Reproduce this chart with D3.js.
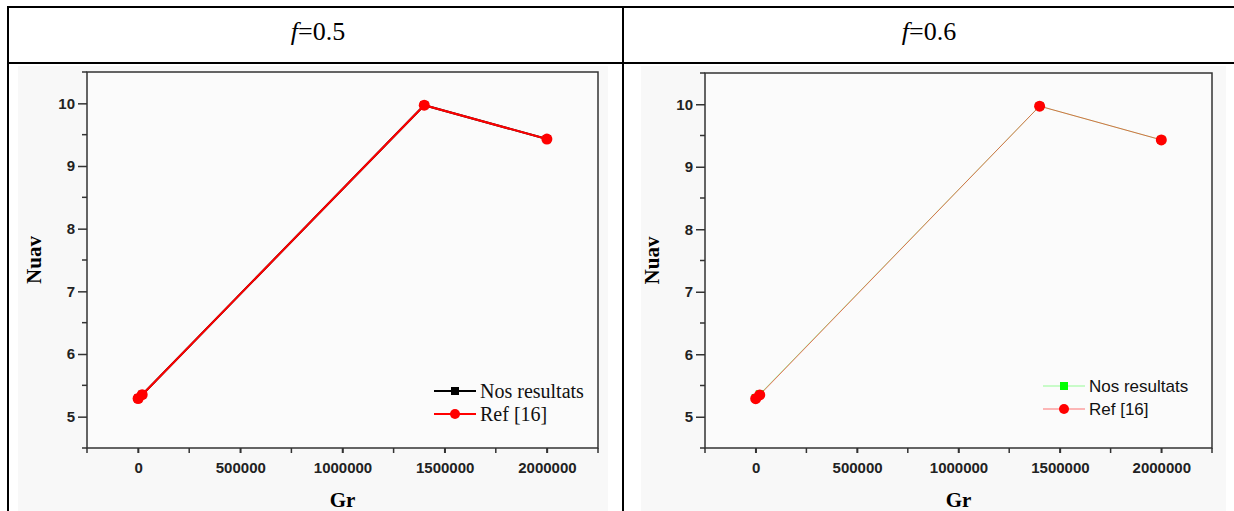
<!DOCTYPE html>
<html>
<head>
<meta charset="utf-8">
<script src="https://cdn.jsdelivr.net/npm/d3@7"></script>
<style>
	body { margin: 0; background: #fff; }
	svg { display: block; }
</style>
</head>
<body>
<div class="chart"></div>
<script>
// Nuav vs Gr, two panels (f=0.5 and f=0.6)
const grValues = [0, 20000, 1400000, 2000000]
const nosResultatsF05 = [5.29, 5.35, 9.97, 9.43]
const ref16F05 = [5.29, 5.35, 9.97, 9.43]
const nosResultatsF06 = [5.30, 5.36, 9.97, 9.43]
const ref16F06 = [5.29, 5.35, 9.97, 9.43]
const panelTitles = ['0.5', '0.6']
const xTickValues = [0, 500000, 1000000, 1500000, 2000000]
const yTickValues = [5, 6, 7, 8, 9, 10]
const legendLabels = ['Nos resultats', 'Ref [16]']

const svg = d3.select('.chart')
	.append('svg')
	.attr('width', 1234)
	.attr('height', 511)

// table borders
const table = svg.append('g').attr('stroke', '#000').attr('stroke-width', 2)
table.append('line').attr('x1', 8).attr('x2', 1234).attr('y1', 7).attr('y2', 7)
table.append('line').attr('x1', 8).attr('x2', 1234).attr('y1', 63).attr('y2', 63)
table.append('line').attr('x1', 8).attr('x2', 8).attr('y1', 6).attr('y2', 511)
table.append('line').attr('x1', 623).attr('x2', 623).attr('y1', 6).attr('y2', 511)

// light grey picture backgrounds
svg.append('rect').attr('x', 18).attr('y', 66).attr('width', 590).attr('height', 445).attr('fill', '#f8f8f8')
svg.append('rect').attr('x', 641).attr('y', 66).attr('width', 585).attr('height', 445).attr('fill', '#f8f8f8')

// header titles
const titleCenters = [318, 929]
panelTitles.forEach((t, i) => {
	const txt = svg.append('text')
		.attr('x', titleCenters[i])
		.attr('y', 40)
		.attr('text-anchor', 'middle')
		.attr('font-family', 'Liberation Serif, Times New Roman, serif')
		.attr('font-size', '26px')
		.attr('fill', '#000')
	txt.append('tspan').attr('font-style', 'italic').text('f')
	txt.append('tspan').text('=' + t)
})

function drawPanel(cfg) {
	const g = svg.append('g')

	const xScale = d3.scaleLinear()
		.domain([-250000, 2250000])
		.range([cfg.left, cfg.right])

	const yScale = d3.scaleLinear()
		.domain([4.5, 10.5])
		.range([cfg.bottom, cfg.top])

	// frame
	g.append('rect')
		.attr('x', cfg.left)
		.attr('y', cfg.top)
		.attr('width', cfg.right - cfg.left)
		.attr('height', cfg.bottom - cfg.top)
		.attr('fill', '#fbfbfb')
		.attr('stroke', '#333')
		.attr('stroke-width', 1.5)

	// x axis
	const xAxis = d3.axisBottom(xScale)
		.tickValues(xTickValues)
		.tickFormat(d3.format('d'))
		.tickSize(5)
		.tickPadding(9)
	const xg = g.append('g')
		.attr('transform', `translate(0, ${cfg.bottom})`)
		.call(xAxis)
	const xMinor = d3.range(-250000, 2250001, 250000)
	g.append('g').selectAll('line')
		.data(xMinor)
		.enter()
		.append('line')
		.attr('x1', d => xScale(d))
		.attr('x2', d => xScale(d))
		.attr('y1', cfg.bottom)
		.attr('y2', cfg.bottom + 5)
		.attr('stroke', '#333')
		.attr('stroke-width', 1.5)

	// y axis
	const yAxis = d3.axisLeft(yScale)
		.tickValues(yTickValues)
		.tickFormat(d3.format('d'))
		.tickSize(9)
		.tickPadding(3)
	const yg = g.append('g')
		.attr('transform', `translate(${cfg.left}, 0)`)
		.call(yAxis)
	const yMinor = d3.range(4.5, 10.51, 1)
	g.append('g').selectAll('line')
		.data(yMinor)
		.enter()
		.append('line')
		.attr('x1', cfg.left - 5)
		.attr('x2', cfg.left)
		.attr('y1', d => yScale(d))
		.attr('y2', d => yScale(d))
		.attr('stroke', '#333')
		.attr('stroke-width', 1.5)

	;[xg, yg].forEach(ax => {
		ax.select('.domain').remove()
		ax.selectAll('line').attr('stroke', '#333').attr('stroke-width', 1.5)
		ax.selectAll('text')
			.attr('font-family', 'Liberation Sans, Arial, sans-serif')
			.attr('font-weight', 'bold')
			.attr('font-size', '15px')
			.attr('fill', '#222')
	})

	// axis titles
	g.append('text')
		.attr('x', (cfg.left + cfg.right) / 2)
		.attr('y', 507)
		.attr('text-anchor', 'middle')
		.attr('font-family', 'Liberation Serif, Times New Roman, serif')
		.attr('font-weight', 'bold')
		.attr('font-size', '21px')
		.text('Gr')
	g.append('text')
		.attr('transform', `translate(${cfg.left - 46}, ${(cfg.top + cfg.bottom) / 2}) rotate(-90)`)
		.attr('text-anchor', 'middle')
		.attr('font-family', 'Liberation Serif, Times New Roman, serif')
		.attr('font-weight', 'bold')
		.attr('font-size', '21px')
		.text('Nuav')

	const pts = (vals) => grValues.map((gr, i) => [gr, vals[i]])
	const line = d3.line()
		.x(d => xScale(d[0]))
		.y(d => yScale(d[1]))

	// series: Nos resultats (squares) under Ref [16] (circles)
	g.append('path')
		.datum(pts(cfg.nos))
		.attr('d', line)
		.attr('fill', 'none')
		.attr('stroke', cfg.nosColor)
		.attr('stroke-width', cfg.lineWidth)
		.attr('stroke-opacity', cfg.nosOpacity)
	g.append('g').selectAll('rect')
		.data(pts(cfg.nos))
		.enter()
		.append('rect')
		.attr('x', d => xScale(d[0]) - 4)
		.attr('y', d => yScale(d[1]) - 4)
		.attr('width', 8)
		.attr('height', 8)
		.attr('fill', cfg.nosColor)

	g.append('path')
		.datum(pts(cfg.ref))
		.attr('d', line)
		.attr('fill', 'none')
		.attr('stroke', '#ff0000')
		.attr('stroke-width', cfg.lineWidth)
		.attr('stroke-opacity', cfg.refOpacity)
	g.append('g').selectAll('circle')
		.data(pts(cfg.ref))
		.enter()
		.append('circle')
		.attr('cx', d => xScale(d[0]))
		.attr('cy', d => yScale(d[1]))
		.attr('r', 5.5)
		.attr('fill', '#ff0000')

	// legend
	const legColors = [cfg.nosColor, '#ff0000']
	const legOpacity = [cfg.nosOpacity, cfg.refOpacity]
	legendLabels.forEach((lab, i) => {
		const y = cfg.legY + i * cfg.legStep
		g.append('line')
			.attr('x1', cfg.legX)
			.attr('x2', cfg.legX + 42)
			.attr('y1', y)
			.attr('y2', y)
			.attr('stroke', legColors[i])
			.attr('stroke-width', cfg.lineWidth)
			.attr('stroke-opacity', legOpacity[i])
		if (i === 0) {
			g.append('rect')
				.attr('x', cfg.legX + 17)
				.attr('y', y - 4)
				.attr('width', 8)
				.attr('height', 8)
				.attr('fill', legColors[i])
		} else {
			g.append('circle')
				.attr('cx', cfg.legX + 21)
				.attr('cy', y)
				.attr('r', 5)
				.attr('fill', legColors[i])
		}
		g.append('text')
			.attr('x', cfg.legX + 46)
			.attr('y', y)
			.attr('dy', '0.35em')
			.attr('font-family', cfg.legFont)
			.attr('font-size', cfg.legSize)
			.attr('fill', '#111')
			.text(lab)
	})
}

drawPanel({
	left: 87, right: 598, top: 72, bottom: 448,
	nos: nosResultatsF05, ref: ref16F05,
	nosColor: '#000000', lineWidth: 2, nosOpacity: 1, refOpacity: 1,
	legX: 434, legY: 391, legStep: 23,
	legFont: 'Liberation Serif, Times New Roman, serif', legSize: '20px'
})

drawPanel({
	left: 705, right: 1212, top: 73, bottom: 448,
	nos: nosResultatsF06, ref: ref16F06,
	nosColor: '#00ff00', lineWidth: 1, nosOpacity: 0.4, refOpacity: 0.55,
	legX: 1043, legY: 386, legStep: 23,
	legFont: 'Liberation Sans, Arial, sans-serif', legSize: '17px'
})
</script>
</body>
</html>
